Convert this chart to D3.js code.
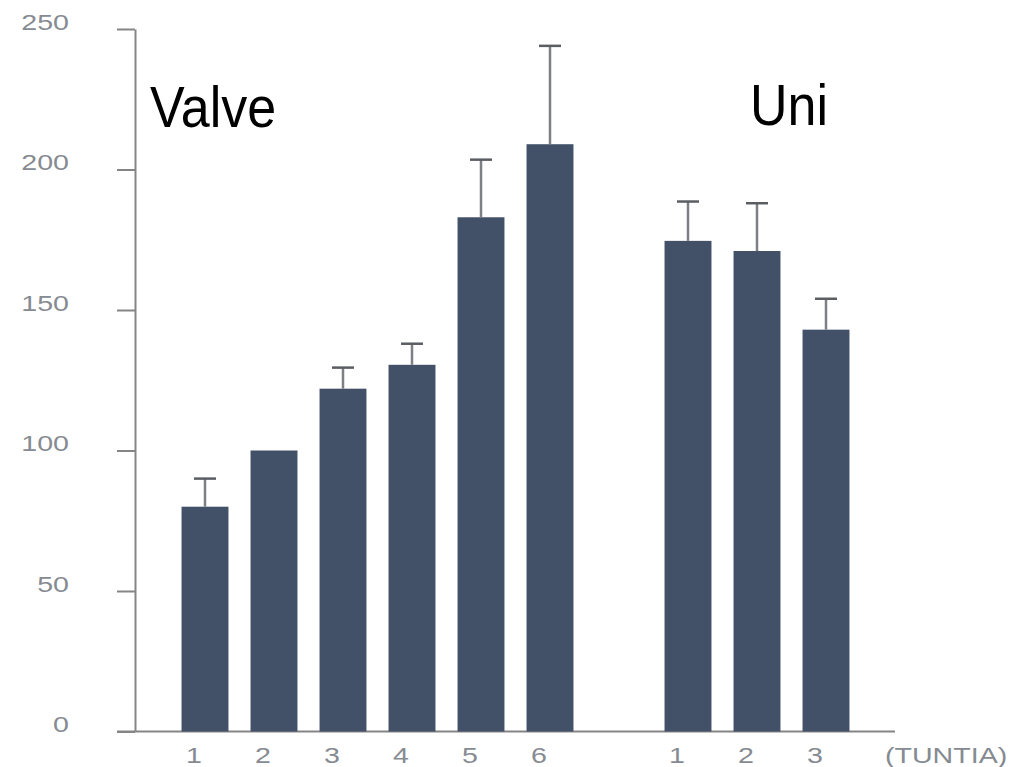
<!DOCTYPE html>
<html>
<head>
<meta charset="utf-8">
<script src="https://cdn.jsdelivr.net/npm/d3@7"></script>
<style>
  html, body { margin: 0; padding: 0; background: #ffffff; }
  svg { display: block; }
</style>
</head>
<body>
<svg id="chart" width="1011" height="767"></svg>
<script>
// Groups and their bar categories
const valveCats = ["1", "2", "3", "4", "5", "6"];
const uniCats = ["1", "2", "3"];

// Mean values and upper error (SD) for each bar
const valveMeans = [80, 100, 122, 130.5, 183, 209];
const valveErr = [10, 0, 7.5, 7.5, 20.5, 35];
const uniMeans = [174.6, 171, 143];
const uniErr = [14, 17, 11];

// Axis ticks and labels
const yTicks = [0, 50, 100, 150, 200, 250];
const groupLabels = ["Valve", "Uni"];
const unitLabel = "(TUNTIA)";

const bars = [
  ...valveCats.map((c, i) => ({ key: "Valve-" + c, cat: c, mean: valveMeans[i], err: valveErr[i] })),
  ...uniCats.map((c, i) => ({ key: "Uni-" + c, cat: c, mean: uniMeans[i], err: uniErr[i] }))
];
const slots = [...valveCats.map(c => "Valve-" + c), "gap", ...uniCats.map(c => "Uni-" + c)];

const svg = d3.select("#chart");
const font = "'Liberation Sans', Arial, sans-serif";
const barColor = "#435168";
const axisColor = "#858585";
const labelColor = "#868b92";
const stretchX = 1.3;

const y = d3.scaleLinear().domain([0, 250]).range([731.5, 29]);
const x = d3.scalePoint().domain(slots).range([205, 826]);
const barW = x.step() * 0.68;
const axisX = 135;

// Y axis
const yAxis = svg.append("g")
  .attr("transform", `translate(${axisX},0)`)
  .call(d3.axisLeft(y).tickValues(yTicks).tickSize(18).tickSizeOuter(0).tickPadding(0));
yAxis.select(".domain").attr("stroke", axisColor).attr("stroke-width", 2);
yAxis.selectAll(".tick line").attr("stroke", axisColor).attr("stroke-width", 2);
yAxis.selectAll(".tick text")
  .attr("x", null).attr("dy", null)
  .attr("text-anchor", "end")
  .attr("fill", labelColor)
  .style("font-family", font)
  .style("font-size", "22px")
  .attr("transform", `translate(-66,0) scale(${stretchX},1)`);

// Baseline
svg.append("line")
  .attr("x1", 117).attr("x2", 895)
  .attr("y1", y(0)).attr("y2", y(0))
  .attr("stroke", axisColor).attr("stroke-width", 2);

// Bars
svg.append("g").selectAll("rect")
  .data(bars)
  .join("rect")
  .attr("x", d => x(d.key) - barW / 2)
  .attr("width", barW)
  .attr("y", d => y(d.mean))
  .attr("height", d => y(0) - y(d.mean))
  .attr("fill", barColor);

// Error bars (upper only)
const eb = svg.append("g").selectAll("g")
  .data(bars.filter(d => d.err > 0))
  .join("g");
eb.append("line")
  .attr("x1", d => x(d.key)).attr("x2", d => x(d.key))
  .attr("y1", d => y(d.mean)).attr("y2", d => y(d.mean + d.err))
  .attr("stroke", "#7c7f84").attr("stroke-width", 2.5);
eb.append("line")
  .attr("x1", d => x(d.key) - 11).attr("x2", d => x(d.key) + 11)
  .attr("y1", d => y(d.mean + d.err)).attr("y2", d => y(d.mean + d.err))
  .attr("stroke", "#5a5d62").attr("stroke-width", 2.5);

// Category labels under bars
svg.append("g").selectAll("text")
  .data(bars)
  .join("text")
  .attr("transform", d => `translate(${x(d.key) - 11},763) scale(${stretchX},1)`)
  .attr("text-anchor", "middle")
  .attr("fill", labelColor)
  .style("font-family", font)
  .style("font-size", "22px")
  .text(d => d.cat);

// Unit label
svg.append("text")
  .attr("transform", `translate(885,763) scale(${stretchX},1)`)
  .attr("fill", labelColor)
  .style("font-family", font)
  .style("font-size", "22px")
  .text(unitLabel);

// Group titles
const titlePos = [[150, 127], [750, 125]];
svg.append("g").selectAll("text")
  .data(groupLabels)
  .join("text")
  .attr("transform", (d, i) => `translate(${titlePos[i][0]},${titlePos[i][1]}) scale(1,1.1)`)
  .attr("fill", "#000000")
  .style("font-family", font)
  .style("font-size", "52px")
  .text(d => d);
</script>
</body>
</html>
